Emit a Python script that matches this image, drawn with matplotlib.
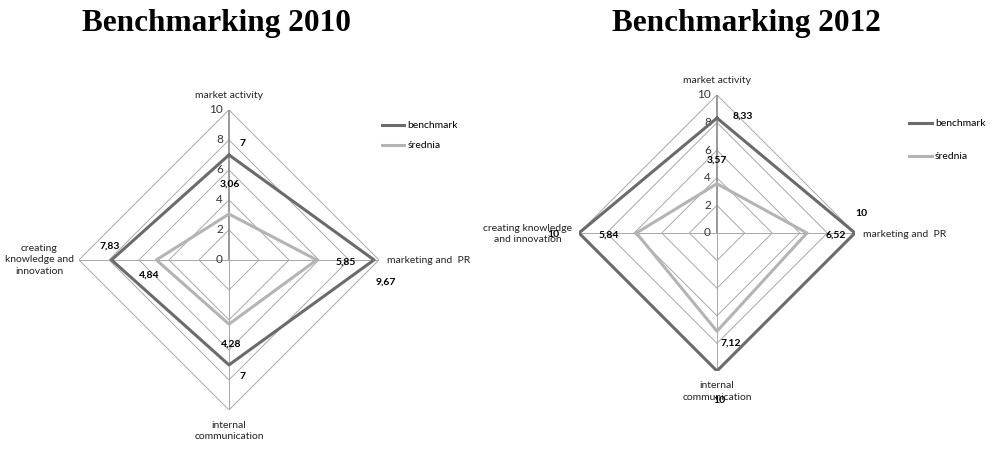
import numpy as np
import matplotlib
matplotlib.use("Agg")
import matplotlib.pyplot as plt

categories = ["market activity", "marketing and  PR", "internal\ncommunication",
              "creating\nknowledge and\ninnovation"]
categories_2012 = ["market activity", "marketing and  PR", "internal\ncommunication",
                   "creating knowledge\nand innovation"]
series_names = ["benchmark", "średnia"]
benchmark_2010 = [7, 9.67, 7, 7.83]
srednia_2010 = [3.06, 5.85, 4.28, 4.84]
benchmark_2012 = [8.33, 10, 10, 10]
srednia_2012 = [3.57, 6.52, 7.12, 5.84]
ticks = [0, 2, 4, 6, 8, 10]
titles = ["Benchmarking 2010", "Benchmarking 2012"]

FONT = ["Lato", "DejaVu Sans"]
C_BENCH = "#6b6b6b"
C_SRED = "#b4b4b4"
C_GRID = "#a8a8a8"

fig = plt.figure(figsize=(10.01, 4.5), dpi=100)

def fmt(v):
    s = ("%.2f" % v).rstrip("0").rstrip(".")
    return s.replace(".", ",")

def radar(rect, cats, bench, sred, lab_off_b, lab_off_s, cat_off, legend_xy, lspace, cat_ls):
    ax = fig.add_axes(rect, projection="polar")
    ax.set_theta_zero_location("N")
    ax.set_theta_direction(-1)
    ax.set_ylim(0, ticks[-1])
    ax.grid(False)
    ax.set_xticks([])
    ax.set_yticks([])
    ax.spines["polar"].set_visible(False)
    ax.patch.set_alpha(0)
    n = len(cats)
    theta = np.arange(n) * 2 * np.pi / n
    tc = np.append(theta, theta[0])
    for t in ticks[1:]:
        ax.plot(tc, [t] * (n + 1), color=C_GRID, lw=0.7, zorder=1)
    for i, th in enumerate(theta):
        ax.plot([th, th], [0, ticks[-1]], color=("#8a8a8a" if i == 0 else C_GRID),
                lw=(1.2 if i == 0 else 0.7), zorder=1)
    for t in ticks:
        ax.annotate(str(t), xy=(0, t), xytext=(-6, 0), textcoords="offset pixels",
                    ha="right", va="center", fontsize=8.5, family=FONT, color="#333333")
    b = list(bench) + [bench[0]]
    s = list(sred) + [sred[0]]
    ax.plot(tc, b, color=C_BENCH, lw=2.2, zorder=3, label=series_names[0])
    ax.plot(tc, s, color=C_SRED, lw=2.2, zorder=3, label=series_names[1])
    for i in range(n):
        ax.annotate(fmt(bench[i]), xy=(theta[i], bench[i]), xytext=lab_off_b[i],
                    textcoords="offset pixels", ha="center", va="center",
                    fontsize=7.5, fontweight="bold", family=FONT, zorder=5)
        ax.annotate(fmt(sred[i]), xy=(theta[i], sred[i]), xytext=lab_off_s[i],
                    textcoords="offset pixels", ha="center", va="center",
                    fontsize=7.5, fontweight="bold", family=FONT, zorder=5)
    has = ["center", "left", "center", "right"]
    vas = ["center", "center", "top", "center"]
    for i in range(n):
        ax.annotate(cats[i], xy=(theta[i], ticks[-1]), xytext=cat_off[i],
                    textcoords="offset pixels", ha=has[i], va=vas[i],
                    multialignment="center", fontsize=7.5, family=FONT,
                    color="#222222", linespacing=cat_ls, annotation_clip=False)
    fig.legend(handles=ax.get_lines()[-2:], loc="upper left",
               bbox_to_anchor=legend_xy, frameon=False,
               prop={"family": FONT, "size": 7.5}, handlelength=2.2,
               handletextpad=0.3, labelspacing=lspace, borderaxespad=0)
    return ax

radar([0.0789, 0.0889, 0.2997, 0.667], categories, benchmark_2010, srednia_2010,
      lab_off_b=[(14, 11), (12, -22), (14, -12), (-2, 14)],
      lab_off_s=[(1, 30), (29, -2), (2, -20), (-7, -15)],
      cat_off=[(0, 14), (8, -1), (0, -11), (-5, 0)],
      legend_xy=(0.377, 0.74), lspace=1.0, cat_ls=1.3)

radar([0.5784, 0.1756, 0.2757, 0.6133], categories_2012, benchmark_2012, srednia_2012,
      lab_off_b=[(26, 2), (6, 19), (2, -30), (-26, -2)],
      lab_off_s=[(0, 24), (29, -2), (14, -12), (-28, -2)],
      cat_off=[(0, 14), (8, -2), (0, -10), (-7, -1)],
      legend_xy=(0.904, 0.745), lspace=2.3, cat_ls=1.4)

fig.text(217 / 1001, 1 - 23 / 450, titles[0], ha="center", va="center",
         fontsize=22.5, fontweight="bold", family=["Liberation Serif", "DejaVu Serif"])
fig.text(746 / 1001, 1 - 23 / 450, titles[1], ha="center", va="center",
         fontsize=22.5, fontweight="bold", family=["Liberation Serif", "DejaVu Serif"])

fig.savefig("out.png", dpi=100)
